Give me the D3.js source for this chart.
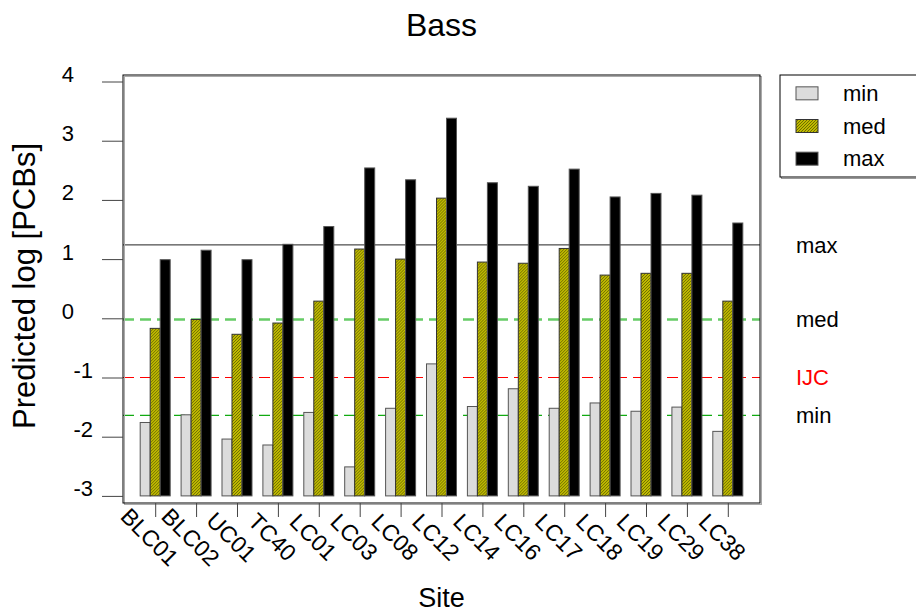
<!DOCTYPE html>
<html>
<head>
<meta charset="utf-8">
<script src="https://cdn.jsdelivr.net/npm/d3@7"></script>
<style>
  body { margin: 0; background: #fff; }
  svg { font-family: "Liberation Sans", Arial, sans-serif; }
</style>
</head>
<body>
<div id="chart"></div>
<script>
const sites = ['BLC01', 'BLC02', 'UC01', 'TC40', 'LC01', 'LC03', 'LC08', 'LC12',
  'LC14', 'LC16', 'LC17', 'LC18', 'LC19', 'LC29', 'LC38'];
const minVals = [-1.76, -1.63, -2.04, -2.14, -1.59, -2.51, -1.52, -0.77, -1.49, -1.19, -1.52, -1.43, -1.57, -1.50, -1.91];
const medVals = [-0.17, -0.02, -0.27, -0.08, 0.29, 1.17, 1.00, 2.03, 0.95, 0.93, 1.18, 0.73, 0.76, 0.76, 0.29];
const maxVals = [0.99, 1.15, 0.99, 1.25, 1.55, 2.54, 2.34, 3.38, 2.29, 2.23, 2.52, 2.05, 2.11, 2.08, 1.61];
const seriesNames = ['min', 'med', 'max'];
const refNames = ['max', 'med', 'IJC', 'min'];
const refValues = [1.24, -0.02, -1.0, -1.64];
const yTicks = [-3, -2, -1, 0, 1, 2, 3, 4];
const barBase = -3;

const W = 916, H = 612;
const box = { left: 123, right: 760, top: 75, bottom: 503 };

const svg = d3.select('#chart').append('svg')
  .attr('width', W)
  .attr('height', H);

// hatch pattern for the med bars
const defs = svg.append('defs');
const hatch = defs.append('pattern')
  .attr('id', 'hatch')
  .attr('patternUnits', 'userSpaceOnUse')
  .attr('width', 3).attr('height', 3);
hatch.append('rect').attr('width', 3).attr('height', 3).attr('fill', '#bfba00');
hatch.append('path').attr('d', 'M-1,1 l2,-2 M0,3 l3,-3 M2,4 l2,-2')
  .attr('stroke', '#5a5800').attr('stroke-width', 0.8);

const fills = { min: '#dcdcdc', med: 'url(#hatch)', max: '#000' };
const strokes = { min: '#555', med: '#333', max: '#555' };

const y = d3.scaleLinear().domain([-3.12, 4.11]).range([box.bottom, box.top]);
const x = d3.scalePoint().domain(sites).range([box.left, box.right]).padding(0.787);
const xSub = d3.scaleBand().domain(seriesNames).range([-15, 15]);

// reference lines (behind the bars)
const refStyle = {
  max: { color: '#222', width: 1, dash: null },
  med: { color: '#66cc66', width: 2.5, dash: '11,6' },
  IJC: { color: '#ff0000', width: 1.2, dash: '11,6' },
  min: { color: '#11aa11', width: 1.2, dash: '11,6' }
};
const refs = refNames.map((n, i) => ({ name: n, value: refValues[i] }));

svg.append('g').selectAll('line')
  .data(refs)
  .enter()
  .append('line')
  .attr('x1', box.left).attr('x2', box.right)
  .attr('y1', d => y(d.value)).attr('y2', d => y(d.value))
  .attr('stroke', d => refStyle[d.name].color)
  .attr('stroke-width', d => refStyle[d.name].width)
  .attr('stroke-dasharray', d => refStyle[d.name].dash);

svg.append('g').selectAll('text')
  .data(refs)
  .enter()
  .append('text')
  .attr('x', 796)
  .attr('y', d => y(d.value))
  .attr('dy', '0.35em')
  .attr('fill', d => d.name === 'IJC' ? '#ff0000' : '#000')
  .style('font-size', '22px')
  .text(d => d.name);

// bars
const rows = sites.map((s, i) => ({ site: s, min: minVals[i], med: medVals[i], max: maxVals[i] }));

const groups = svg.append('g').selectAll('g')
  .data(rows)
  .enter()
  .append('g')
  .attr('transform', d => `translate(${x(d.site)},0)`);

groups.selectAll('rect')
  .data(d => seriesNames.map(k => ({ key: k, value: d[k] })))
  .enter()
  .append('rect')
  .attr('x', d => xSub(d.key))
  .attr('width', xSub.bandwidth())
  .attr('y', d => y(d.value))
  .attr('height', d => y(barBase) - y(d.value))
  .attr('fill', d => fills[d.key])
  .attr('stroke', d => strokes[d.key])
  .attr('stroke-width', 1);

// frame
svg.append('rect')
  .attr('x', box.left + 1.5).attr('y', box.top + 1.5)
  .attr('width', box.right - box.left).attr('height', box.bottom - box.top)
  .attr('fill', 'none').attr('stroke', '#aaa');
svg.append('rect')
  .attr('x', box.left).attr('y', box.top)
  .attr('width', box.right - box.left).attr('height', box.bottom - box.top)
  .attr('fill', 'none').attr('stroke', '#000');

// y axis
const yAxis = svg.append('g')
  .attr('transform', `translate(${box.left},0)`)
  .call(d3.axisLeft(y).tickValues(yTicks).tickSize(21).tickFormat(d => String(d)));
yAxis.select('.domain').remove();
yAxis.selectAll('.tick line').attr('stroke', '#444');
yAxis.selectAll('.tick text')
  .attr('x', d => d < 0 ? -30 : -49)
  .attr('dy', 0)
  .attr('fill', '#000')
  .style('font-size', '22px')
  .style('font-family', '"Liberation Sans", Arial, sans-serif');

// x axis
const xAxis = svg.append('g')
  .attr('transform', `translate(0,${box.bottom})`)
  .call(d3.axisBottom(x).tickSize(14));
xAxis.select('.domain').remove();
xAxis.selectAll('.tick line').attr('stroke', '#444');
xAxis.selectAll('.tick text')
  .attr('x', 0).attr('y', 0).attr('dy', '0.35em')
  .attr('transform', 'translate(-6,34) rotate(45)')
  .attr('text-anchor', 'middle')
  .attr('fill', '#000')
  .style('font-size', '23px')
  .style('font-family', '"Liberation Sans", Arial, sans-serif');

// titles
svg.append('text')
  .attr('x', (box.left + box.right) / 2).attr('y', 36)
  .attr('text-anchor', 'middle')
  .style('font-size', '32px')
  .text('Bass');

svg.append('text')
  .attr('x', (box.left + box.right) / 2).attr('y', 607)
  .attr('text-anchor', 'middle')
  .style('font-size', '27px')
  .text('Site');

svg.append('text')
  .attr('transform', `translate(35,${(box.top + box.bottom) / 2 - 3}) rotate(-90)`)
  .attr('text-anchor', 'middle')
  .style('font-size', '31px')
  .text('Predicted log [PCBs]');

// legend
const legend = svg.append('g');
legend.append('rect')
  .attr('x', 781.5).attr('y', 76.5).attr('width', 150).attr('height', 102)
  .attr('fill', 'none').attr('stroke', '#999');
legend.append('rect')
  .attr('x', 780).attr('y', 75).attr('width', 150).attr('height', 102)
  .attr('fill', '#fff').attr('stroke', '#000');

const legendRow = d3.scaleBand().domain(seriesNames).range([77, 175]);
const items = legend.selectAll('.item')
  .data(seriesNames)
  .enter()
  .append('g')
  .attr('transform', d => `translate(0,${legendRow(d) + legendRow.bandwidth() / 2})`);
items.append('rect')
  .attr('x', 796).attr('y', -6.5).attr('width', 22).attr('height', 13)
  .attr('fill', d => fills[d])
  .attr('stroke', d => strokes[d]);
items.append('text')
  .attr('x', 843).attr('dy', '0.35em')
  .style('font-size', '22px')
  .text(d => d);
</script>
</body>
</html>
